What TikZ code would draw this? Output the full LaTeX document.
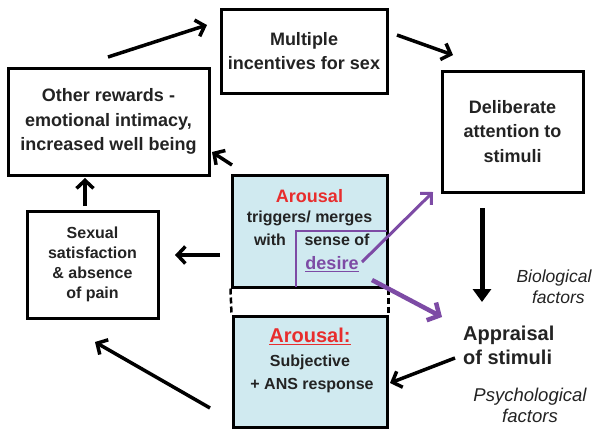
\documentclass[tikz,border=0pt]{standalone}
\usepackage{fontspec}
\setmainfont{Liberation Sans}
\usetikzlibrary{arrows.meta}
\definecolor{purp}{RGB}{125,75,165}
\definecolor{lblue}{RGB}{208,234,240}
\definecolor{ared}{RGB}{232,45,45}
\definecolor{txt}{RGB}{35,35,35}
\begin{document}
\begin{tikzpicture}[x=1pt,y=-1pt,
  box/.style={draw=black,line width=3pt,rectangle,inner sep=0pt,align=center,text=txt,
    font=\fontsize{18}{24.5}\selectfont\bfseries},
  smallbox/.style={box,font=\fontsize{16}{19.8}\selectfont\bfseries},
  bluebox/.style={draw=black,line width=3pt,fill=lblue,rectangle,inner sep=0pt},
  lbl/.style={inner sep=0pt,align=center,text=txt},
  arr/.style={line width=3.5pt,-{Straight Barb[length=8pt,width=17pt]}},
  parr/.style={purp,line width=3pt,-{Straight Barb[length=8pt,width=16pt]}},
  parrbig/.style={purp,line width=4.5pt,-{Straight Barb[length=9pt,width=20pt]}},
  bigarr/.style={line width=5pt,-{Triangle[length=13pt,width=18pt]}}
]
\useasboundingbox (0,0) rectangle (600,429);
\fill[white] (0,0) rectangle (600,429);

% boxes
\node[box,minimum width=201pt,minimum height=107pt] (other) at (108.5,121.5)
  {Other rewards -\\emotional intimacy,\\increased well being};
\node[box,minimum width=166pt,minimum height=84pt] (mult) at (304,51)
  {Multiple\\incentives for sex};
\node[box,minimum width=141pt,minimum height=121pt] (delib) at (512.5,131.5)
  {Deliberate\\attention to\\stimuli};
\node[smallbox,minimum width=131pt,minimum height=107pt] (sexual) at (92.5,264.5)
  {Sexual\\satisfaction\\\& absence\\of pain};
\node[bluebox,minimum width=155pt,minimum height=112pt] (arup) at (309.5,231) {};
\node[bluebox,minimum width=154pt,minimum height=111pt] (arlow) at (310,371.5) {};

% dashed links between the two arousal boxes
\draw[line width=2.5pt,dash pattern=on 6pt off 3pt] (arup.south west) -- (arlow.north west);
\draw[line width=2.5pt,dash pattern=on 6pt off 3pt] (arup.south east) -- (arlow.north east);

% upper arousal text
\node[lbl,text=ared,font=\fontsize{18}{20}\selectfont\bfseries] (t1) at (309.5,196) {Arousal};
\node[lbl,font=\fontsize{16}{20}\selectfont\bfseries] (t2) at (309.5,218) {triggers/ merges};
\node[lbl,font=\fontsize{16}{20}\selectfont\bfseries] (t3) at (270,240) {with};
\node[lbl,font=\fontsize{16}{20}\selectfont\bfseries] (t4) at (337,240) {sense of};
\node[lbl,text=purp,font=\fontsize{18}{20}\selectfont\bfseries] (des) at (332,264) {\underline{desire}};

% purple bracket
\coordinate (bk1) at (296,287);
\coordinate (bk2) at (296,231);
\coordinate (bk3) at (387,231);
\draw[purp,line width=2.2pt] (bk1) -- (bk2) -- (bk3);

% lower arousal text
\node[lbl,text=ared,font=\fontsize{20}{22}\selectfont\bfseries] (l1) at (310,336) {\underline{Arousal:}};
\node[lbl,font=\fontsize{16}{20}\selectfont\bfseries] (l2) at (310,362) {Subjective};
\node[lbl,font=\fontsize{16}{20}\selectfont\bfseries] (l3) at (312,386) {+ ANS response};

% appraisal and factors
\node[lbl,anchor=west,align=left,font=\fontsize{20}{24}\selectfont\bfseries] (appr) at (463,345)
  {Appraisal\\of stimuli};
\node[lbl,font=\fontsize{17.5}{21}\selectfont\itshape] (bio) at (554,287) {Biological\\\phantom{x}factors};
\node[lbl,font=\fontsize{18.5}{21}\selectfont\itshape] (psy) at (530,405) {Psychological\\factors};

% arrow end points
\coordinate (a1s) at (108,57);  \coordinate (a1e) at (207,25);
\coordinate (a2s) at (397,35);  \coordinate (a2e) at (453,55);
\coordinate (a3s) at (482,208); \coordinate (a3e) at (482,302);
\coordinate (a4s) at (455,358); \coordinate (a4e) at (390,383);
\coordinate (a5s) at (210,408); \coordinate (a5e) at (95,342);
\coordinate (a6s) at (220,255); \coordinate (a6e) at (175,255);
\coordinate (a7s) at (85,206);  \coordinate (a7e) at (85,178);
\coordinate (a8s) at (232,165); \coordinate (a8e) at (212,152);
\coordinate (p1s) at (362,262); \coordinate (p1e) at (433,192);
\coordinate (p2s) at (372,280); \coordinate (p2e) at (442,317);

\draw[arr] (a1s) -- (a1e);
\draw[arr] (a2s) -- (a2e);
\draw[bigarr] (a3s) -- (a3e);
\draw[arr] (a4s) -- (a4e);
\draw[arr] (a5s) -- (a5e);
\draw[arr] (a6s) -- (a6e);
\draw[arr] (a7s) -- (a7e);
\draw[arr] (a8s) -- (a8e);
\draw[parr] (p1s) -- (p1e);
\draw[parrbig] (p2s) -- (p2e);
\end{tikzpicture}
\end{document}
